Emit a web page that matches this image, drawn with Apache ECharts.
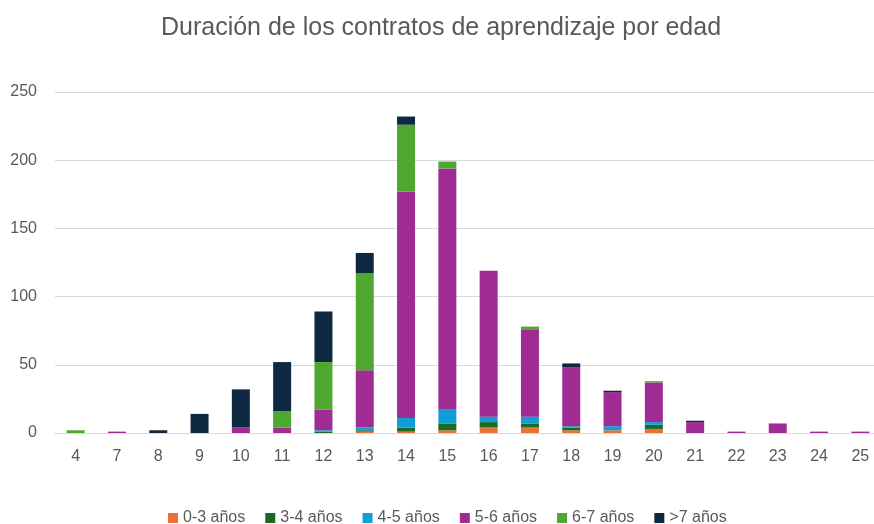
<!DOCTYPE html>
<html><head><meta charset="utf-8">
<script src="https://cdn.jsdelivr.net/npm/echarts@6/dist/echarts.min.js"></script>
<style>html,body{margin:0;padding:0;background:#fff;overflow:hidden}#c{width:882px;height:524px}</style>
</head><body><div id="c"></div>
<script>
const categories = ['4','7','8','9','10','11','12','13','14','15','16','17','18','19','20','21','22','23','24','25'];
const s0_3 = [0,0,0,0,0,0,0,1,1,2,4,4,2,2,3,0,0,0,0,0];
const s3_4 = [0,0,0,0,0,0,1,1,3,5,4,3,2,0,3,0,0,0,0,0];
const s4_5 = [0,0,0,0,0,0,1,2,7,10,4,5,1,3,2,0,0,0,0,0];
const s5_6 = [0,1,0,0,4,4,15,42,166,177,107,64,43,25,29,8,1,7,1,1];
const s6_7 = [2,0,0,0,0,12,35,71,49,5,0,2,0,0,1,0,0,0,0,0];
const s7p  = [0,0,2,14,28,36,37,15,6,0,0,0,3,1,0,1,0,0,0,0];
const seriesNames = ['0-3 años','3-4 años','4-5 años','5-6 años','6-7 años','>7 años'];
const seriesData = [s0_3,s3_4,s4_5,s5_6,s6_7,s7p];
const colors = ['#E97132','#196B24','#0F9ED5','#A02B93','#4EA72E','#0E2841'];
const yTicks = {min:0,max:250,interval:50};

const chart = echarts.init(document.getElementById('c'));
chart.setOption({
  animation:false,
  color: colors,
  title:{text:'Duración de los contratos de aprendizaje por edad',left:'center',top:11,
    textStyle:{fontFamily:'Liberation Sans, Arial',fontSize:25,fontWeight:'normal',color:'#595959'}},
  grid:{left:55,top:92,width:826,height:341,containLabel:false},
  legend:{top:505,left:163,itemWidth:10,itemHeight:10,itemGap:20,icon:'rect',
    textStyle:{fontFamily:'Liberation Sans, Arial',fontSize:16,color:'#595959'}},
  xAxis:{type:'category',data:categories,
    axisLine:{lineStyle:{color:'#d9d9d9',width:1}},axisTick:{show:false},
    axisLabel:{fontFamily:'Liberation Sans, Arial',fontSize:16,color:'#595959',margin:16}},
  yAxis:{type:'value',min:yTicks.min,max:yTicks.max,interval:yTicks.interval,
    axisLine:{show:false},axisTick:{show:false},
    splitLine:{lineStyle:{color:'#d9d9d9',width:1}},
    axisLabel:{fontFamily:'Liberation Sans, Arial',fontSize:16,color:'#595959',margin:18}},
  series: seriesData.map((d,i)=>({name:seriesNames[i],type:'bar',stack:'t',data:d,barWidth:18}))
});
</script></body></html>
